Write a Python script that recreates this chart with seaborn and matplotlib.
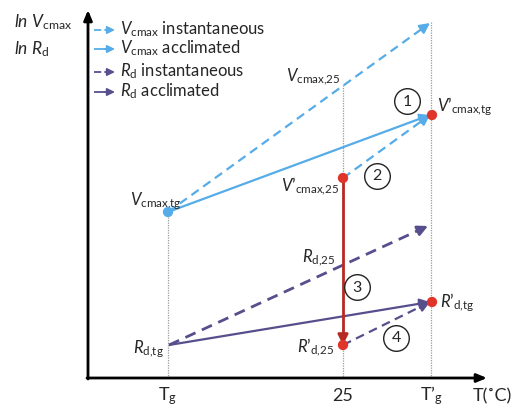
import matplotlib
matplotlib.use("Agg")
import matplotlib.pyplot as plt
import seaborn as sns
import pandas as pd

# --- DATA (diagram positions, pixel space of the original figure) ---
tick_x = [168, 343, 431]
tick_labels = ["$\\mathrm{T_g}$", "25", "$\\mathrm{T’_g}$"]
axis_origin = (88, 378)

# Vcmax points
vc_tg = (168, 212)
vc_inst_end = (430, 23)
vc_accl_end = (430, 115)
vc25_prime = (343, 178)
# Rd points
rd_tg = (169, 345)
rd_inst_end = (428, 226)
rd_accl_end = (430, 302)
rd25_prime = (343, 345)

dot_x = [168, 343, 432, 343, 432]
dot_y = [212, 178, 115, 345, 302]
dot_kind = ["blue", "red", "red", "red", "red"]

guide_x = [168, 343, 431]
guide_top = [212, 85, 22]

circle_nums = ["1", "2", "3", "4"]
circle_x = [407, 377, 357, 396]
circle_y = [101, 176, 287, 338]

BLUE = "#55ACE8"
PURPLE = "#564F8C"
RED = "#E0342A"
DARKRED = "#B72A22"

sns.set_style("white")
plt.rcParams['font.family'] = ['Lato', 'DejaVu Sans']
plt.rcParams['mathtext.fontset'] = 'custom'
plt.rcParams['mathtext.rm'] = 'Lato'
plt.rcParams['mathtext.it'] = 'Lato:italic'

fig = plt.figure(figsize=(5.17, 4.09), dpi=100)
ax = fig.add_axes([0, 0, 1, 1])
ax.set_xlim(0, 517)
ax.set_ylim(409, 0)
ax.axis("off")

FS = 12


def arrow_line(p0, p1, color, dashed, lw=1.6, hl=0.6, hw=0.3):
    ls = (0, (4, 2.5)) if dashed else "-"
    # stop the shaft a little short so the head sits on the end point
    dx, dy = p1[0] - p0[0], p1[1] - p0[1]
    L = (dx ** 2 + dy ** 2) ** 0.5
    f = (L - 6) / L
    ax.plot([p0[0], p0[0] + dx * f], [p0[1], p0[1] + dy * f], color=color, lw=lw, ls=ls,
            solid_capstyle="butt", dash_capstyle="butt")
    ax.annotate("", xy=p1, xytext=(p0[0] + dx * (L - 10) / L, p0[1] + dy * (L - 10) / L),
                arrowprops=dict(arrowstyle=f"-|>,head_length={hl},head_width={hw}", color=color, lw=lw,
                                shrinkA=0, shrinkB=0))


# guide lines
for gx, gt in zip(guide_x, guide_top):
    ax.plot([gx, gx], [gt, axis_origin[1]], color="#9a9a9a", lw=0.9, ls=(0, (1, 1)))

# axes arrows
ax.annotate("", xy=(88, 10), xytext=(88, 379),
            arrowprops=dict(arrowstyle="-|>,head_length=0.6,head_width=0.25", color="black", lw=2,
                            shrinkA=0, shrinkB=0))
ax.annotate("", xy=(487, 378), xytext=(87, 378),
            arrowprops=dict(arrowstyle="-|>,head_length=0.6,head_width=0.25", color="black", lw=2,
                            shrinkA=0, shrinkB=0))

# Vcmax lines
arrow_line(vc_tg, vc_inst_end, BLUE, True)
arrow_line(vc_tg, vc_accl_end, BLUE, False)
arrow_line(vc25_prime, vc_accl_end, BLUE, True)
# Rd lines
arrow_line(rd_tg, rd_inst_end, PURPLE, True, lw=2)
arrow_line(rd_tg, rd_accl_end, PURPLE, False)
arrow_line(rd25_prime, rd_accl_end, PURPLE, True)
# red vertical
arrow_line(vc25_prime, rd25_prime, DARKRED, False, lw=2)

# dots
dots = pd.DataFrame({"x": dot_x, "y": dot_y, "kind": dot_kind})
sns.scatterplot(data=dots, x="x", y="y", hue="kind", palette={"blue": BLUE, "red": RED},
                s=55, edgecolor="none", legend=False, ax=ax, zorder=5)

# numbered circles
for n, cx, cy in zip(circle_nums, circle_x, circle_y):
    ax.scatter(cx, cy, s=340, facecolor="white", edgecolor="#222222", lw=1.0, zorder=6)
    ax.text(cx, cy + 0.5, n, ha="center", va="center", fontsize=FS - 0.5, zorder=7)

# point labels
ax.text(130, 201, "$V_{\\mathrm{cmax{,}tg}}$", fontsize=FS, va="center")
ax.text(286, 77, "$V_{\\mathrm{cmax{,}25}}$", fontsize=FS, va="center")
ax.text(281, 186, "$\\mathit{V’}_{\\mathrm{cmax{,}25}}$", fontsize=FS, va="center")
ax.text(437, 107, "$\\mathit{V’}_{\\mathrm{cmax{,}tg}}$", fontsize=FS, va="center")
ax.text(302, 258, "$R_{\\mathrm{d{,}25}}$", fontsize=FS, va="center")
ax.text(133, 349, "$R_{\\mathrm{d{,}tg}}$", fontsize=FS, va="center")
ax.text(297, 347, "$\\mathit{R’}_{\\mathrm{d{,}25}}$", fontsize=FS, va="center")
ax.text(440, 303, "$\\mathit{R’}_{\\mathrm{d{,}tg}}$", fontsize=FS, va="center")

# x ticks
for tx, tl in zip(tick_x, tick_labels):
    ax.text(tx, 396, tl, fontsize=FS + 1, ha="center", va="center")
ax.text(473, 396, "T(˚C)", fontsize=FS + 1, ha="left", va="center")

# y label
ax.text(14, 22, "$\\mathit{ln}\\ V_{\\mathrm{cmax}}$", fontsize=FS + 0.5, va="center")
ax.text(14, 49, "$\\mathit{ln}\\ R_{\\mathrm{d}}$", fontsize=FS + 0.5, va="center")

# legend
legend_items = [
    (BLUE, True, "$V_{\\mathrm{cmax}}$ instantaneous"),
    (BLUE, False, "$V_{\\mathrm{cmax}}$ acclimated"),
    (PURPLE, True, "$R_{\\mathrm{d}}$ instantaneous"),
    (PURPLE, False, "$R_{\\mathrm{d}}$ acclimated"),
]
legend_y = [30, 49, 72, 92]
for (c, d, lab), ly in zip(legend_items, legend_y):
    arrow_line((94, ly), (115, ly), c, d, lw=1.3, hl=0.45, hw=0.22)
    ax.text(120, ly - 1, lab, fontsize=FS, va="center")

fig.savefig("out.png", dpi=100)
